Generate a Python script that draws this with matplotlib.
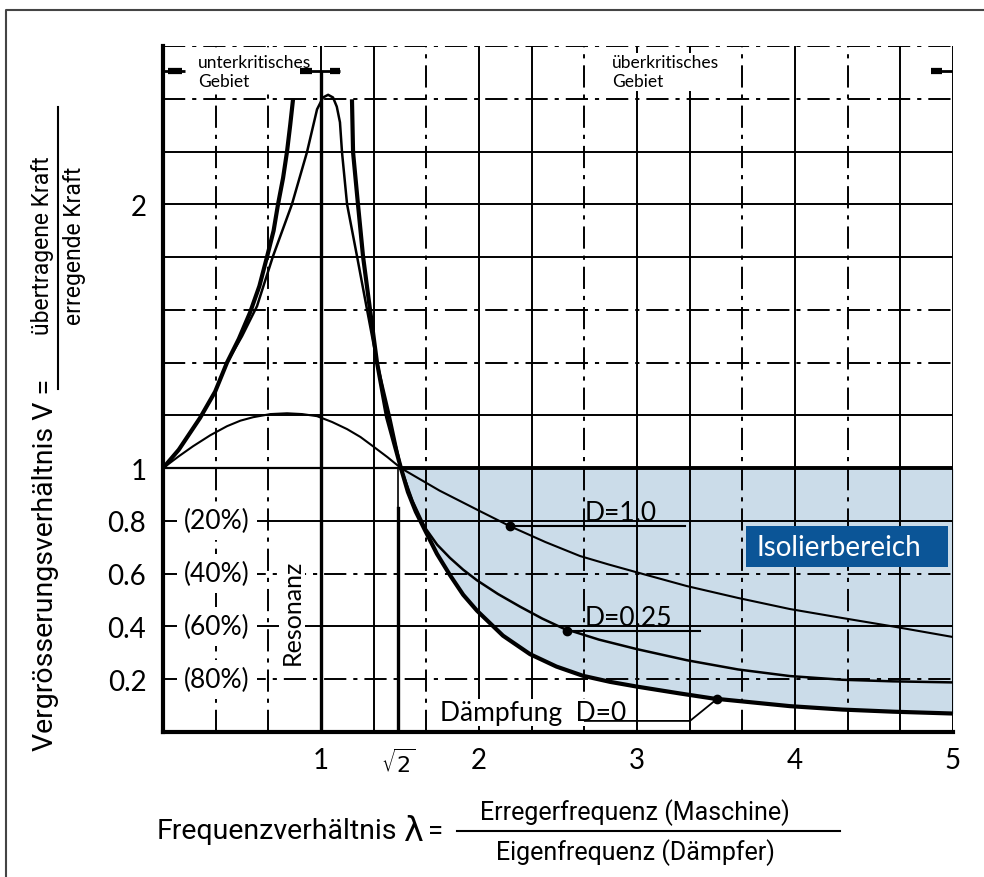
import matplotlib
matplotlib.use("Agg")
import matplotlib.pyplot as plt
import numpy as np
from matplotlib.patches import Rectangle
from matplotlib.lines import Line2D

plt.rcParams['lines.scale_dashes'] = False
plt.rcParams['mathtext.fontset'] = 'dejavusans'

# ---------------- data ----------------
# D = 0 (no damping), left and right branch
lam_d0_left = [0.0, 0.1, 0.234, 0.33, 0.405, 0.48, 0.551, 0.61, 0.658, 0.70,
               0.728, 0.76, 0.785, 0.805, 0.823]
v_d0_left = [1.0, 1.07, 1.19, 1.29, 1.40, 1.49, 1.59, 1.69, 1.80, 1.90,
             2.0, 2.1, 2.2, 2.3, 2.398]
lam_d0_right = [1.196, 1.203, 1.234, 1.266, 1.310, 1.354, 1.418, 1.506, 1.55, 1.60,
                1.658, 1.734, 1.816, 1.90, 1.987, 2.152, 2.323, 2.49, 2.658, 2.83,
                3.0, 3.272, 3.481, 3.968, 4.3, 4.620, 5.0]
v_d0_right = [2.398, 2.197, 2.0, 1.803, 1.602, 1.402, 1.193, 1.0, 0.91, 0.835,
              0.765, 0.675, 0.595, 0.52, 0.46, 0.365, 0.295, 0.248, 0.213, 0.19,
              0.172, 0.146, 0.127, 0.098, 0.085, 0.077, 0.070]
# D = 0.25
lam_d025 = [0.0, 0.1, 0.234, 0.33, 0.405, 0.50, 0.595, 0.696, 0.816, 0.911,
            0.975, 1.013, 1.045, 1.076, 1.10, 1.120, 1.133, 1.165, 1.228, 1.291,
            1.354, 1.437, 1.506, 1.58, 1.658, 1.735, 1.816, 1.90, 1.987, 2.12,
            2.26, 2.4, 2.532, 2.76, 3.0, 3.316, 3.64, 3.968, 4.3, 4.620, 5.0]
v_d025 = [1.0, 1.07, 1.19, 1.29, 1.40, 1.50, 1.614, 1.803, 2.0, 2.197,
          2.36, 2.405, 2.415, 2.405, 2.37, 2.311, 2.197, 2.0, 1.803, 1.602,
          1.402, 1.193, 1.0, 0.875, 0.775, 0.71, 0.66, 0.615, 0.575, 0.523,
          0.475, 0.43, 0.393, 0.35, 0.314, 0.272, 0.237, 0.212, 0.198, 0.192, 0.188]
# D = 1.0
lam_d1 = [0.0, 0.1, 0.19, 0.3, 0.405, 0.49, 0.57, 0.68, 0.785, 0.88,
          0.975, 1.07, 1.165, 1.25, 1.329, 1.42, 1.506, 1.75, 2.006, 2.196,
          2.42, 2.639, 2.82, 3.0, 3.316, 3.64, 3.968, 4.3, 4.620, 5.0]
v_d1 = [1.0, 1.045, 1.083, 1.125, 1.159, 1.18, 1.193, 1.205, 1.208, 1.205,
        1.197, 1.175, 1.148, 1.118, 1.083, 1.042, 1.0, 0.915, 0.837, 0.780,
        0.72, 0.667, 0.635, 0.605, 0.553, 0.508, 0.466, 0.432, 0.40, 0.36]

x_tick_vals = [1, 1.49, 2, 3, 4, 5]
x_tick_labels = ['1', r'$\sqrt{2}$', '2', '3', '4', '5']
y_tick_vals = [0.2, 0.4, 0.6, 0.8, 1, 2]
y_tick_labels = ['0.2', '0.4', '0.6', '0.8', '1', '2']
pct_vals = [0.8, 0.6, 0.4, 0.2]
pct_labels = ['(20%)', '(40%)', '(60%)', '(80%)']

# ---------------- figure ----------------
W, H = 984, 878
fig = plt.figure(figsize=(W / 100, H / 100), dpi=100)

def fx(px):
    return px / W

def fy(py):
    return 1 - py / H

ax = fig.add_axes([fx(163), fy(733), fx(953) - fx(163), fy(47) - fy(733)])
ax.set_xlim(0, 5)
ax.set_ylim(0, 2.6)

DASHDOT = (0, (16, 5, 3, 5))
# vertical grid (every 1/3)
v_styles = ['dd', 'dd', 's', 's', 'dd', 's', 's', 'dd', 's', 's', 'dd', 's', 'dd', 's', 's']
for k, st in enumerate(v_styles, start=1):
    ax.axvline(k / 3, color='black', lw=1.4,
               ls='-' if st == 's' else DASHDOT, zorder=2)
# horizontal grid (every 0.2)
h_styles = ['dd', 's', 'dd', 's', 's', 's', 'dd', 'dd', 's', 's', 's', 'dd', 'dd']
for k, st in enumerate(h_styles, start=1):
    ax.axhline(k * 0.2, color='black', lw=1.4,
               ls='-' if st == 's' else DASHDOT, zorder=2)

# isolation region shading
lr = np.array(lam_d0_right)
vr = np.array(v_d0_right)
m = lr >= 1.506
ax.fill_between(lr[m], vr[m], 1.0, color='#cbdce9', zorder=1, lw=0)
ax.plot([0, 5], [1, 1], color='black', lw=1.6, zorder=3)
ax.plot([1.506, 5], [1, 1], color='black', lw=2.8, zorder=3)

# resonance and sqrt(2) lines
ax.plot([1, 1], [0, 2.5], color='black', lw=2.4, zorder=3)
ax.plot([1.49, 1.49], [0, 0.85], color='black', lw=2.4, zorder=3)
ax.plot([1.49, 1.49], [0.85, 1.0], color='black', lw=1.2, zorder=3)

# curves
kw = dict(solid_joinstyle='round', solid_capstyle='butt')
ax.plot(lam_d0_left, v_d0_left, color='black', lw=3.0, zorder=4, **kw)
ax.plot(lam_d0_right, v_d0_right, color='black', lw=3.0, zorder=4, **kw)
ax.plot(lam_d025, v_d025, color='black', lw=1.8, zorder=4, **kw)
ax.plot(lam_d1, v_d1, color='black', lw=1.5, zorder=4, **kw)

# spines
for s in ['top', 'right']:
    ax.spines[s].set_visible(False)
ax.spines['left'].set_linewidth(3)
ax.spines['bottom'].set_linewidth(3)

tick_font = 'Lato'
ax.set_xticks(x_tick_vals)
ax.set_xticklabels(x_tick_labels, fontsize=20, family=tick_font)
ax.get_xticklabels()[1].set_fontsize(16)
ax.set_yticks(y_tick_vals)
ax.set_yticklabels(y_tick_labels, fontsize=20, family=tick_font)
ax.tick_params(axis='x', length=0, pad=11)
ax.tick_params(axis='y', length=0, pad=12)

# percentage labels
for v, t in zip(pct_vals, pct_labels):
    ax.text(0.342, v, t, ha='center', va='center', fontsize=19, family=tick_font,
            zorder=6, bbox=dict(facecolor='white', edgecolor='none', pad=5))

# Resonanz
ax.text(0.816, 0.458, 'Resonanz', rotation=90, ha='center', va='center',
        fontsize=18, family=tick_font, zorder=6,
        bbox=dict(facecolor='white', edgecolor='none', pad=1))

# damping annotations
ax.text(2.67, 0.805, 'D=1.0', fontsize=19, family=tick_font, zorder=6, va='baseline')
ax.plot([2.196, 3.304], [0.780, 0.780], color='black', lw=1.5, zorder=5)
ax.plot([2.196], [0.780], marker='o', ms=6, color='black', zorder=6)

ax.text(2.67, 0.405, 'D=0.25', fontsize=19, family=tick_font, zorder=6, va='baseline')
ax.plot([2.557, 3.40], [0.383, 0.383], color='black', lw=1.5, zorder=5)
ax.plot([2.557], [0.383], marker='o', ms=6, color='black', zorder=6)

ax.text(1.753, 0.045, 'Dämpfung  D=0', fontsize=19, family=tick_font, zorder=6,
        va='baseline', bbox=dict(facecolor='white', edgecolor='none', pad=1))
ax.plot([2.67, 3.335, 3.506], [0.042, 0.042, 0.125], color='black', lw=1.3, zorder=6)
ax.plot([3.506], [0.125], marker='o', ms=6, color='black', zorder=6)

# Isolierbereich
ax.add_patch(Rectangle((3.69, 0.625), 1.28, 0.155, facecolor='#0b5597',
                       edgecolor='none', zorder=7))
ax.text(3.755, 0.703, 'Isolierbereich', color='white', fontsize=20, family=tick_font,
        va='center', ha='left', zorder=8)

# top region labels
ax.text(0.22, 2.57, 'unterkritisches\nGebiet', fontsize=12.5, family=tick_font,
        va='top', ha='left', linespacing=1.25, zorder=6,
        bbox=dict(facecolor='white', edgecolor='none', pad=1))
ax.text(2.84, 2.57, 'überkritisches\nGebiet', fontsize=12.5, family=tick_font,
        va='top', ha='left', linespacing=1.25, zorder=6,
        bbox=dict(facecolor='white', edgecolor='none', pad=1))
ya = 2.504
ax.plot([0.0, 0.14], [ya, ya], color='black', lw=2, zorder=6, solid_capstyle='butt')
ax.plot([0.03, 0.12], [ya, ya], color='black', lw=4.5, zorder=6, solid_capstyle='butt')
ax.plot([0.87, 1.12], [ya, ya], color='black', lw=2, zorder=6, solid_capstyle='butt')
ax.plot([0.87, 0.94], [ya, ya], color='black', lw=4.5, zorder=6, solid_capstyle='butt')
ax.plot([1.06, 1.12], [ya, ya], color='black', lw=4.5, zorder=6, solid_capstyle='butt')
ax.plot([4.86, 5.0], [ya, ya], color='black', lw=2, zorder=6, solid_capstyle='butt')
ax.plot([4.86, 4.93], [ya, ya], color='black', lw=4.5, zorder=6, solid_capstyle='butt')

# ---------------- axis titles (figure coordinates) ----------------
lab_font = ['Liberation Sans Narrow', 'Roboto', 'DejaVu Sans']
fig.text(fx(46), fy(565), 'Vergrösserungsverhältnis V =', rotation=90,
         ha='center', va='center', fontsize=20.5, family=lab_font)
fig.text(fx(43), fy(246), 'übertragene Kraft', rotation=90,
         ha='center', va='center', fontsize=16.5, family=lab_font)
fig.text(fx(74), fy(246), 'erregende Kraft', rotation=90,
         ha='center', va='center', fontsize=16.5, family=lab_font)
fig.add_artist(Line2D([fx(58), fx(58)], [fy(108), fy(390)], color='black', lw=1.5))

fig.text(fx(157), fy(832), 'Frequenzverhältnis', ha='left', va='center',
         fontsize=20.5, family=lab_font)
fig.text(fx(414), fy(832), 'λ', ha='center', va='center', fontsize=24,
         family=['DejaVu Sans'])
fig.text(fx(436), fy(832), '=', ha='center', va='center', fontsize=20,
         family=lab_font)
fig.add_artist(Line2D([fx(457), fx(840)], [fy(832), fy(832)], color='black', lw=1.5))
fig.text(fx(635), fy(813), 'Erregerfrequenz (Maschine)', ha='center', va='center',
         fontsize=18, family=lab_font)
fig.text(fx(635), fy(853), 'Eigenfrequenz (Dämpfer)', ha='center', va='center',
         fontsize=18, family=lab_font)

# outer border
fig.add_artist(Line2D([fx(6), fx(6), fx(984)], [fy(878), fy(11), fy(11)],
                      color='#444444', lw=1.5))

fig.savefig('out.png', dpi=100)
